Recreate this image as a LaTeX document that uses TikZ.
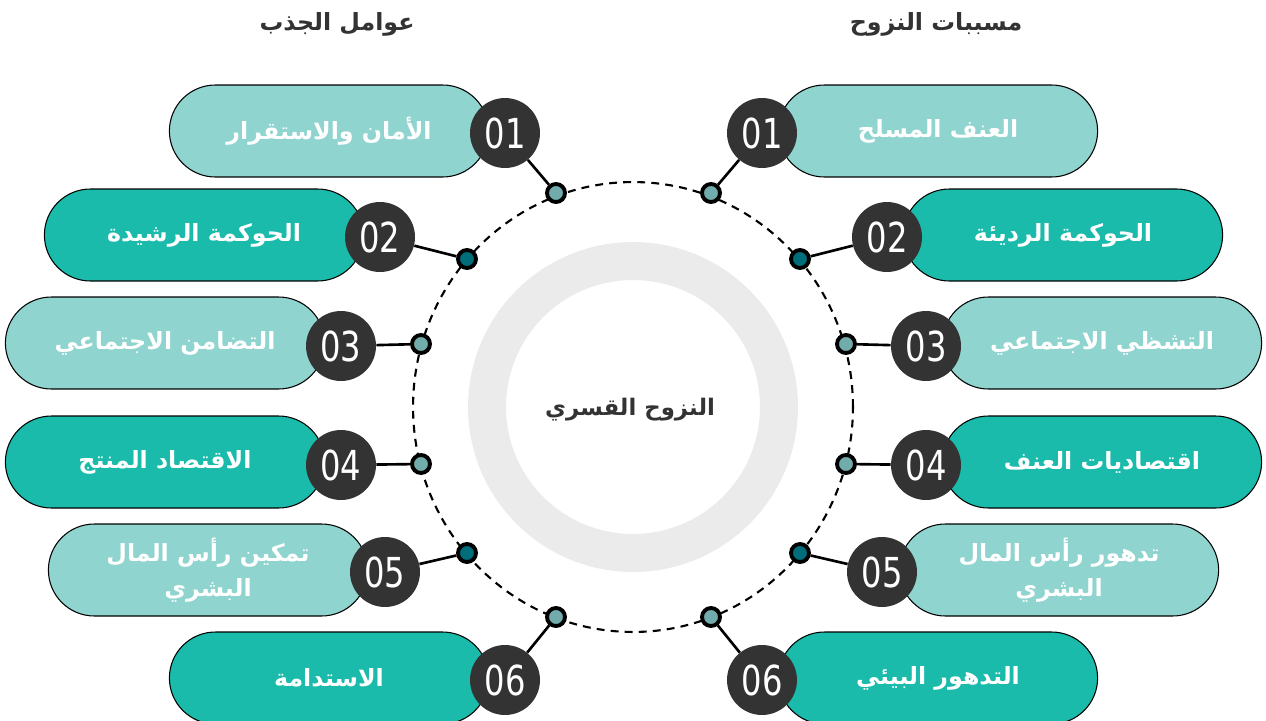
\documentclass[tikz,border=0pt]{standalone}
\usepackage{fontspec}
\usepackage{tikz}
\usetikzlibrary{shapes.misc,positioning}
\TeXXeTstate=1
\newfontfamily\arabicfont[Script=Arabic]{DejaVu Sans}
\newfontfamily\numfont[FakeStretch=0.78]{DejaVu Sans}
\definecolor{pilllight}{HTML}{8FD4CF}
\definecolor{pilldark}{HTML}{1ABBAA}
\definecolor{numgray}{HTML}{333333}
\definecolor{dotlight}{HTML}{72ABAB}
\definecolor{dotdark}{HTML}{006D7A}
\definecolor{ringgray}{HTML}{EBEBEB}

\begin{document}
\begin{tikzpicture}
	[x=0.02cm,y=-0.02cm,
	pill/.style={rounded rectangle, draw=black, line width=0.6pt, minimum width=6.62cm, minimum height=1.84cm, text=white, align=center, font=\arabicfont\bfseries\fontsize{13.5}{20}\selectfont},
	numdisc/.style={circle, fill=numgray, minimum size=1.4cm, inner sep=0pt, text=white, font=\numfont\fontsize{23.5}{24}\selectfont},
	dotnode/.style={circle, draw=black, line width=2.2pt, minimum size=0.36cm, inner sep=0pt},
	title/.style={text=numgray, font=\arabicfont\bfseries\fontsize{13.5}{18}\selectfont}]

	\useasboundingbox (0,0) rectangle (1266,720);

	% centre ring and dashed orbit
	\fill[ringgray, even odd rule] (633,407) circle (3.3cm) circle (2.54cm);
	\node[title, font=\arabicfont\bfseries\fontsize{13}{18}\selectfont] (core) at (630,410) {\beginR النزوح القسري\endR};
	\draw[line width=1.2pt, dash pattern=on 4.5pt off 3.5pt] (633,407) ellipse (4.4cm and 4.5cm);

	\node[title] (pulltitle) at (337,24) {\beginR عوامل الجذب\endR};
	\node[title] (pushtitle) at (936,24) {\beginR مسببات النزوح\endR};

	% left side: pull factors
	\node[pill, fill=pilllight] (l1) at (329,131) {\beginR الأمان والاستقرار\endR};
	\node[pill, fill=pilldark] (l2) at (204,235) {\beginR الحوكمة الرشيدة\endR};
	\node[pill, fill=pilllight] (l3) at (165,343) {\beginR التضامن الاجتماعي\endR};
	\node[pill, fill=pilldark] (l4) at (165,462) {\beginR الاقتصاد المنتج\endR};
	\node[pill, fill=pilllight] (l5) at (208,570) {\beginR تمكين رأس المال\endR\\\beginR البشري\endR};
	\node[pill, fill=pilldark] (l6) at (329,678) {\beginR الاستدامة\endR};

	% right side: push factors
	\node[pill, fill=pilllight] (r1) at (938,131) {\beginR العنف المسلح\endR};
	\node[pill, fill=pilldark] (r2) at (1063,235) {\beginR الحوكمة الرديئة\endR};
	\node[pill, fill=pilllight] (r3) at (1102,343) {\beginR التشظي الاجتماعي\endR};
	\node[pill, fill=pilldark] (r4) at (1102,462) {\beginR اقتصاديات العنف\endR};
	\node[pill, fill=pilllight] (r5) at (1059,570) {\beginR تدهور رأس المال\endR\\\beginR البشري\endR};
	\node[pill, fill=pilldark] (r6) at (938,678) {\beginR التدهور البيئي\endR};

	\foreach \i/\nx/\ny/\dx/\dy/\dc in {1/505/133/556/193/dotlight, 2/380/237/467/259/dotdark, 3/341/346/421/344/dotlight, 4/341/465/421/464/dotlight, 5/385/572/467/553/dotdark, 6/505/680/556/617/dotlight}
	{
	\node[numdisc] (nl\i) at (\nx,\ny) {0\i};
	\node[numdisc] (nr\i) at (1267-\nx,\ny) {0\i};
	\node[dotnode, fill=\dc] (dl\i) at (\dx,\dy) {};
	\node[dotnode, fill=\dc] (dr\i) at (1267-\dx,\dy) {};
	\draw[line width=1.5pt] (dl\i) -- (nl\i);
	\draw[line width=1.5pt] (dr\i) -- (nr\i);
	}
\end{tikzpicture}
\end{document}
